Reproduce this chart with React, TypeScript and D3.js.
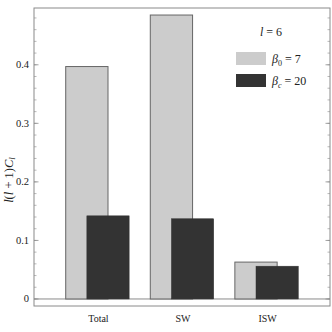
import React from "react";
import * as d3 from "d3";

const categories = ["Total", "SW", "ISW"];
const beta0Values = [0.397, 0.485, 0.063];
const betaCValues = [0.142, 0.137, 0.056];
const yTicks = [0, 0.1, 0.2, 0.3, 0.4];
const yTickLabels = ["0", "0.1", "0.2", "0.3", "0.4"];

export default function App() {
  const W = 332, H = 332;
  const left = 34, right = 330, top = 8, bottom = 306;
  const y = d3.scaleLinear().domain([-0.012, 0.497]).range([bottom, top]);
  const x = d3.scalePoint<string>().domain(categories).range([left, right]).padding(0.75);
  const step = x.step();
  const bw = step * 0.5;
  const minor = d3.range(-0.0, 0.497, 0.02);
  const font = "'Liberation Serif', 'DejaVu Serif', serif";
  const frame = "#8a8a8a";
  return (
    <svg width={W} height={H} style={{ position: "absolute", left: 0, top: 0 }}>
      <rect x={0} y={0} width={W} height={H} fill="#fff" />
      {/* zero line */}
      <line x1={left} x2={right} y1={y(0)} y2={y(0)} stroke={frame} strokeWidth={1} />
      {/* bars */}
      {categories.map((c, i) => {
        const cx = x(c)!;
        return (
          <g key={c}>
            <rect x={cx - 0.375 * step} y={y(beta0Values[i])} width={bw} height={y(0) - y(beta0Values[i])}
              fill="#cccccc" stroke="#666" strokeWidth={1} />
            <rect x={cx - 0.125 * step} y={y(betaCValues[i])} width={bw} height={y(0) - y(betaCValues[i])}
              fill="#333333" stroke="#333" strokeWidth={0.5} />
          </g>
        );
      })}
      {/* minor ticks */}
      {minor.map((v, i) => (
        <g key={"m" + i}>
          <line x1={left} x2={left + 2.5} y1={y(v)} y2={y(v)} stroke={frame} strokeWidth={0.6} />
          <line x1={right} x2={right - 2.5} y1={y(v)} y2={y(v)} stroke={frame} strokeWidth={0.6} />
        </g>
      ))}
      {yTicks.map((v, i) => (
        <g key={"t" + i}>
          <line x1={left} x2={left + 4.5} y1={y(v)} y2={y(v)} stroke={frame} strokeWidth={0.8} />
          <line x1={right} x2={right - 4.5} y1={y(v)} y2={y(v)} stroke={frame} strokeWidth={0.8} />
          <text x={29} y={y(v) + 3.5} textAnchor="end" fontFamily={font} fontSize={10.5} fill="#222">{yTickLabels[i]}</text>
        </g>
      ))}
      {/* frame */}
      <rect x={left} y={top} width={right - left} height={bottom - top} fill="none" stroke={frame} strokeWidth={1} />
      {/* x labels */}
      {categories.map((c) => (
        <text key={"x" + c} x={x(c)! + 1} y={322} textAnchor="middle" fontFamily={font} fontSize={10} fill="#222">{c}</text>
      ))}
      {/* y label */}
      <text transform={`translate(13,${180}) rotate(-90)`} textAnchor="middle" fontFamily={font} fontSize={12.5} fill="#222">
        <tspan fontStyle="italic">l</tspan>(<tspan fontStyle="italic">l</tspan> + 1)<tspan fontStyle="italic">C</tspan><tspan fontStyle="italic" fontSize={9} dy={2}>l</tspan>
      </text>
      {/* legend */}
      <text x={271} y={36} textAnchor="middle" fontFamily={font} fontSize={12} fill="#222">
        <tspan fontStyle="italic">l</tspan> = 6
      </text>
      <rect x={236} y={52} width={30} height={13} fill="#cccccc" />
      <rect x={236} y={74} width={30} height={13} fill="#333333" />
      <text x={272} y={63} fontFamily={font} fontSize={12} fill="#222">
        <tspan fontStyle="italic">β</tspan><tspan fontSize={8} dy={3}>0</tspan><tspan dy={-3}> = 7</tspan>
      </text>
      <text x={272} y={85} fontFamily={font} fontSize={12} fill="#222">
        <tspan fontStyle="italic">β</tspan><tspan fontSize={8} fontStyle="italic" dy={3}>c</tspan><tspan dy={-3}> = 20</tspan>
      </text>
    </svg>
  );
}
